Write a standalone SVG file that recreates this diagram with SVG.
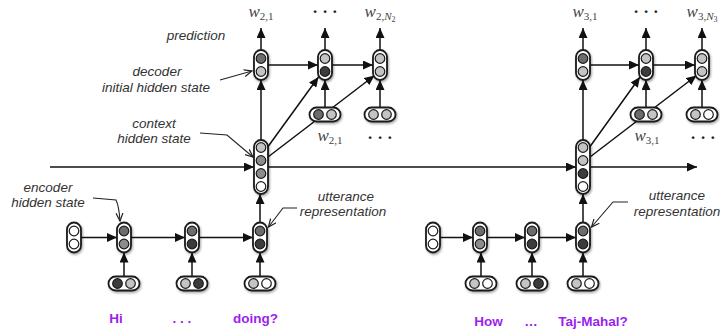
<svg xmlns="http://www.w3.org/2000/svg" width="720" height="334" viewBox="0 0 720 334">
<defs>
<marker id="ah" markerUnits="userSpaceOnUse" markerWidth="10" markerHeight="9" refX="10" refY="4.5" orient="auto"><path d="M0,0 L10,4.5 L0,9 z" fill="#111"/></marker>
<marker id="lh" markerUnits="userSpaceOnUse" markerWidth="9" markerHeight="8" refX="8" refY="4" orient="auto"><path d="M0,0.5 L8,4 L0,7.5" fill="none" stroke="#222" stroke-width="1.2"/></marker>
<filter id="sh" x="-50%" y="-50%" width="200%" height="200%"><feDropShadow dx="1" dy="1.5" stdDeviation="1.2" flood-color="#000" flood-opacity="0.35"/></filter>
<style>
.box{fill:#fff;stroke:#1a1a1a;stroke-width:1.8;filter:url(#sh)}
.c{stroke:#1a1a1a;stroke-width:1.2}
.w{fill:#fff}.l{fill:#c4c4c4}.m{fill:#8c8c8c}.g{fill:#6c6c6c}.d{fill:#3c3c3c}
.con{stroke:#111;stroke-width:1.5;fill:none;marker-end:url(#ah)}
.ld{stroke:#222;stroke-width:1.1;fill:none;marker-end:url(#lh)}
.lab{font-family:"Liberation Sans",Arial,sans-serif;font-style:italic;font-size:13.5px;fill:#333;text-anchor:middle}
.word{font-family:"Liberation Sans",Arial,sans-serif;font-weight:bold;font-size:13.5px;fill:#9a1ff0;text-anchor:middle}
.math{font-family:"Liberation Serif","Times New Roman",serif;font-size:17px;fill:#444;text-anchor:middle}
.it{font-style:italic}
.sub{font-size:11px}
.sub2{font-size:8px}
.dots{font-family:"Liberation Serif",serif;font-size:17px;fill:#222;text-anchor:middle;font-weight:bold}
</style>
</defs>

<g id="connectors">
<line class="con" x1="50" y1="167" x2="254" y2="167"/>
<line class="con" x1="268" y1="167" x2="576" y2="167"/>
<line class="con" x1="590" y1="167" x2="697" y2="167"/>
<line class="con" x1="81" y1="237.5" x2="117" y2="237.5"/>
<line class="con" x1="131" y1="237.5" x2="185" y2="237.5"/>
<line class="con" x1="199" y1="237.5" x2="253" y2="237.5"/>
<line class="con" x1="124" y1="276.5" x2="124" y2="252.5"/>
<line class="con" x1="192" y1="276.5" x2="192" y2="252.5"/>
<line class="con" x1="260" y1="276.5" x2="260" y2="252.5"/>
<line class="con" x1="260" y1="222.5" x2="260" y2="194"/>
<line class="con" x1="261" y1="140" x2="261" y2="80"/>
<line class="con" x1="267" y1="148" x2="318.5" y2="77"/>
<line class="con" x1="268" y1="157" x2="374.5" y2="75.5"/>
<line class="con" x1="268" y1="65" x2="318" y2="65"/>
<line class="con" x1="332" y1="65" x2="373" y2="65"/>
<line class="con" x1="261" y1="50" x2="261" y2="28"/>
<line class="con" x1="325" y1="50" x2="325" y2="28"/>
<line class="con" x1="380" y1="50" x2="380" y2="28"/>
<line class="con" x1="325" y1="107.5" x2="325" y2="80"/>
<line class="con" x1="380" y1="107.5" x2="380" y2="80"/>
<line class="con" x1="440" y1="237.5" x2="473" y2="237.5"/>
<line class="con" x1="487" y1="237.5" x2="525" y2="237.5"/>
<line class="con" x1="539" y1="237.5" x2="576" y2="237.5"/>
<line class="con" x1="481" y1="276.5" x2="481" y2="252.5"/>
<line class="con" x1="532" y1="276.5" x2="532" y2="252.5"/>
<line class="con" x1="583" y1="276.5" x2="583" y2="252.5"/>
<line class="con" x1="583" y1="222.5" x2="583" y2="194"/>
<line class="con" x1="583" y1="140" x2="583" y2="80"/>
<line class="con" x1="589" y1="148" x2="640" y2="77"/>
<line class="con" x1="590" y1="157" x2="696.5" y2="75.5"/>
<line class="con" x1="590" y1="65" x2="639" y2="65"/>
<line class="con" x1="653" y1="65" x2="695" y2="65"/>
<line class="con" x1="583" y1="50" x2="583" y2="28"/>
<line class="con" x1="646" y1="50" x2="646" y2="28"/>
<line class="con" x1="702" y1="50" x2="702" y2="28"/>
<line class="con" x1="646" y1="107.5" x2="646" y2="80"/>
<line class="con" x1="702" y1="107.5" x2="702" y2="80"/>
<path class="ld" d="M220,80 L252,71"/>
<path class="ld" d="M200,133 L227,135 L253,157"/>
<path class="ld" d="M93,198 L116,200 Q119,206 120,221"/>
<path class="ld" d="M297,208 L283,208 L268.5,227"/>
<path class="ld" d="M628,202 L613,202 L591.5,227"/>
</g>

<g id="enc1_init"><rect class="box" x="67" y="222.5" width="14" height="30" rx="7"/><circle class="c w" cx="74" cy="231" r="4.8"/><circle class="c w" cx="74" cy="244" r="4.8"/></g>
<g id="enc1_h1"><rect class="box" x="117" y="222.5" width="14" height="30" rx="7"/><circle class="c g" cx="124" cy="231" r="4.8"/><circle class="c m" cx="124" cy="244" r="4.8"/></g>
<g id="enc1_h2"><rect class="box" x="185" y="222.5" width="14" height="30" rx="7"/><circle class="c g" cx="192" cy="231" r="4.8"/><circle class="c d" cx="192" cy="244" r="4.8"/></g>
<g id="enc1_h3"><rect class="box" x="253" y="222.5" width="14" height="30" rx="7"/><circle class="c g" cx="260" cy="231" r="4.8"/><circle class="c d" cx="260" cy="244" r="4.8"/></g>
<g id="enc1_x1"><rect class="box" x="108.5" y="276.5" width="31" height="14" rx="7"/><circle class="c d" cx="117.5" cy="283.5" r="4.8"/><circle class="c l" cx="130.5" cy="283.5" r="4.8"/></g>
<g id="enc1_x2"><rect class="box" x="176.5" y="276.5" width="31" height="14" rx="7"/><circle class="c l" cx="185.5" cy="283.5" r="4.8"/><circle class="c d" cx="198.5" cy="283.5" r="4.8"/></g>
<g id="enc1_x3"><rect class="box" x="244.5" y="276.5" width="31" height="14" rx="7"/><circle class="c l" cx="253.5" cy="283.5" r="4.8"/><circle class="c w" cx="266.5" cy="283.5" r="4.8"/></g>

<g id="ctx1"><rect class="box" x="254" y="140" width="14" height="54" rx="7"/><circle class="c l" cx="261" cy="147.5" r="4.8"/><circle class="c m" cx="261" cy="160.5" r="4.8"/><circle class="c m" cx="261" cy="173.5" r="4.8"/><circle class="c w" cx="261" cy="186.5" r="4.8"/></g>

<g id="dec1_h1"><rect class="box" x="254" y="50" width="14" height="30" rx="7"/><circle class="c g" cx="261" cy="58.5" r="4.8"/><circle class="c l" cx="261" cy="71.5" r="4.8"/></g>
<g id="dec1_h2"><rect class="box" x="318" y="50" width="14" height="30" rx="7"/><circle class="c l" cx="325" cy="58.5" r="4.8"/><circle class="c d" cx="325" cy="71.5" r="4.8"/></g>
<g id="dec1_h3"><rect class="box" x="373" y="50" width="14" height="30" rx="7"/><circle class="c l" cx="380" cy="58.5" r="4.8"/><circle class="c l" cx="380" cy="71.5" r="4.8"/></g>
<g id="dec1_x2"><rect class="box" x="309.5" y="107.5" width="31" height="14" rx="7"/><circle class="c g" cx="318.5" cy="114.5" r="4.8"/><circle class="c l" cx="331.5" cy="114.5" r="4.8"/></g>
<g id="dec1_x3"><rect class="box" x="364.5" y="107.5" width="31" height="14" rx="7"/><circle class="c l" cx="373.5" cy="114.5" r="4.8"/><circle class="c l" cx="386.5" cy="114.5" r="4.8"/></g>

<g id="enc2_init"><rect class="box" x="426" y="222.5" width="14" height="30" rx="7"/><circle class="c w" cx="433" cy="231" r="4.8"/><circle class="c w" cx="433" cy="244" r="4.8"/></g>
<g id="enc2_h1"><rect class="box" x="473" y="222.5" width="14" height="30" rx="7"/><circle class="c g" cx="480" cy="231" r="4.8"/><circle class="c m" cx="480" cy="244" r="4.8"/></g>
<g id="enc2_h2"><rect class="box" x="525" y="222.5" width="14" height="30" rx="7"/><circle class="c g" cx="532" cy="231" r="4.8"/><circle class="c d" cx="532" cy="244" r="4.8"/></g>
<g id="enc2_h3"><rect class="box" x="576" y="222.5" width="14" height="30" rx="7"/><circle class="c g" cx="583" cy="231" r="4.8"/><circle class="c d" cx="583" cy="244" r="4.8"/></g>
<g id="enc2_x1"><rect class="box" x="465.5" y="276.5" width="31" height="14" rx="7"/><circle class="c l" cx="474.5" cy="283.5" r="4.8"/><circle class="c w" cx="487.5" cy="283.5" r="4.8"/></g>
<g id="enc2_x2"><rect class="box" x="516.5" y="276.5" width="31" height="14" rx="7"/><circle class="c l" cx="525.5" cy="283.5" r="4.8"/><circle class="c d" cx="538.5" cy="283.5" r="4.8"/></g>
<g id="enc2_x3"><rect class="box" x="567.5" y="276.5" width="31" height="14" rx="7"/><circle class="c l" cx="576.5" cy="283.5" r="4.8"/><circle class="c w" cx="589.5" cy="283.5" r="4.8"/></g>

<g id="ctx2"><rect class="box" x="576" y="140" width="14" height="54" rx="7"/><circle class="c l" cx="583" cy="147.5" r="4.8"/><circle class="c l" cx="583" cy="160.5" r="4.8"/><circle class="c d" cx="583" cy="173.5" r="4.8"/><circle class="c w" cx="583" cy="186.5" r="4.8"/></g>

<g id="dec2_h1"><rect class="box" x="576" y="50" width="14" height="30" rx="7"/><circle class="c g" cx="583" cy="58.5" r="4.8"/><circle class="c l" cx="583" cy="71.5" r="4.8"/></g>
<g id="dec2_h2"><rect class="box" x="639" y="50" width="14" height="30" rx="7"/><circle class="c l" cx="646" cy="58.5" r="4.8"/><circle class="c d" cx="646" cy="71.5" r="4.8"/></g>
<g id="dec2_h3"><rect class="box" x="695" y="50" width="14" height="30" rx="7"/><circle class="c l" cx="702" cy="58.5" r="4.8"/><circle class="c l" cx="702" cy="71.5" r="4.8"/></g>
<g id="dec2_x2"><rect class="box" x="630.5" y="107.5" width="31" height="14" rx="7"/><circle class="c g" cx="639.5" cy="114.5" r="4.8"/><circle class="c l" cx="652.5" cy="114.5" r="4.8"/></g>
<g id="dec2_x3"><rect class="box" x="686.5" y="107.5" width="31" height="14" rx="7"/><circle class="c l" cx="695.5" cy="114.5" r="4.8"/><circle class="c w" cx="708.5" cy="114.5" r="4.8"/></g>

<g id="labels">
<text class="lab" x="196" y="40">prediction</text>
<text class="lab" x="157" y="76">decoder</text>
<text class="lab" x="156" y="92">initial hidden state</text>
<text class="lab" x="154" y="128">context</text>
<text class="lab" x="154" y="143">hidden state</text>
<text class="lab" x="48" y="192">encoder</text>
<text class="lab" x="48" y="207">hidden state</text>
<text class="lab" x="346" y="201">utterance</text>
<text class="lab" x="343" y="216">representation</text>
<text class="lab" x="677" y="200">utterance</text>
<text class="lab" x="677" y="216">representation</text>

<text class="math" x="261" y="17"><tspan class="it">w</tspan><tspan class="sub" dy="3">2,1</tspan></text>
<text class="dots" x="325" y="17">· · ·</text>
<text class="math" x="380" y="17"><tspan class="it">w</tspan><tspan class="sub" dy="3">2,</tspan><tspan class="sub it">N</tspan><tspan class="sub2" dy="2">2</tspan></text>
<text class="math" x="330" y="141"><tspan class="it">w</tspan><tspan class="sub" dy="3">2,1</tspan></text>
<text class="dots" x="380" y="143">· · ·</text>

<text class="math" x="585" y="17"><tspan class="it">w</tspan><tspan class="sub" dy="3">3,1</tspan></text>
<text class="dots" x="646" y="17">· · ·</text>
<text class="math" x="702" y="17"><tspan class="it">w</tspan><tspan class="sub" dy="3">3,</tspan><tspan class="sub it">N</tspan><tspan class="sub2" dy="2">3</tspan></text>
<text class="math" x="647" y="141"><tspan class="it">w</tspan><tspan class="sub" dy="3">3,1</tspan></text>
<text class="dots" x="703" y="143">· · ·</text>

<text class="word" x="116" y="323">Hi</text>
<text class="word" x="182" y="323">. . .</text>
<text class="word" x="255.5" y="323">doing?</text>
<text class="word" x="488.5" y="326">How</text>
<text class="word" x="531" y="326">…</text>
<text class="word" x="593" y="326">Taj-Mahal?</text>
</g>
</svg>
